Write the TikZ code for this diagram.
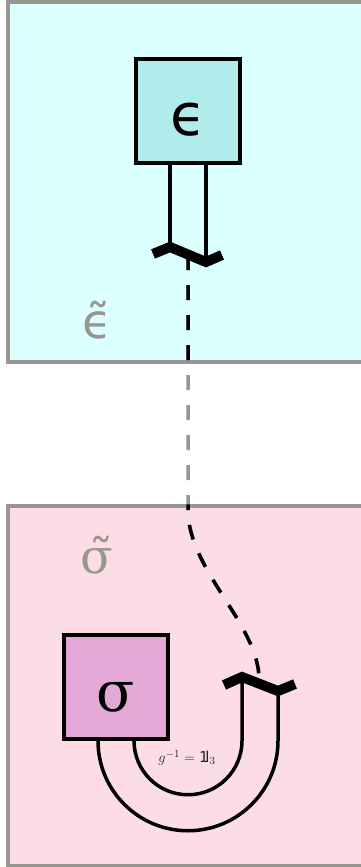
\documentclass[tikz,border=0pt]{standalone}
\usepackage{fontspec}
\setmainfont{DejaVu Sans}
\newfontfamily\serifgreek{DejaVu Serif}
\newcommand{\idone}{\mathrm{1\kern-0.22em l}}
\definecolor{framegray}{RGB}{153,150,145}
\definecolor{epsbg}{RGB}{220,255,255}
\definecolor{epsbox}{RGB}{176,236,236}
\definecolor{sigbg}{RGB}{253,221,229}
\definecolor{sigbox}{RGB}{228,168,216}
\begin{document}
\begin{tikzpicture}[x=1pt,y=-1pt,
  frame/.style={draw=framegray, line width=3.5pt, rectangle, minimum width=362pt,
    minimum height=360pt, inner sep=0pt},
  tensor/.style={draw=black, line width=3.5pt, rectangle, minimum size=104pt,
    inner sep=0pt, text height=52pt, text depth=4pt},
  wire/.style={line width=3.5pt},
  cup/.style={line width=10pt, line join=miter},
  link/.style={line width=3.5pt, dash pattern=on 15pt off 15pt},
  tag/.style={text=framegray}]
\useasboundingbox (0,0) rectangle (361,867);

% the two regions
\node[frame, fill=epsbg] (top) at (189,182) {};
\node[frame, fill=sigbg] (bot) at (189,686) {};

% dashed link between the two caps
\coordinate (capT) at (188,255);
\coordinate (bend) at (188,510);
\coordinate (capB) at (259,679);
\draw[link, framegray] (capT) -- (bend) .. controls (188,570) and (259,625) .. (capB);
\begin{scope}
  \clip (top.north west) rectangle (top.south east)
        (bot.north west) rectangle (bot.south east);
  \draw[link] (capT) -- (bend) .. controls (188,570) and (259,625) .. (capB);
\end{scope}

% top tensor and its cap
\coordinate (t1) at (153,254);
\coordinate (t2) at (170,247);
\coordinate (t3) at (206,262);
\coordinate (t4) at (222,255);
\node[tensor, fill=epsbox, font=\fontsize{58}{58}\selectfont] (eps) at (188,111) {ϵ};
\draw[wire] ([xshift=-18pt]eps.south) -- (t2);
\draw[wire] ([xshift=18pt]eps.south) -- (t3);
\draw[cup] (t1) -- (t2) -- (t3) -- (t4);

% bottom tensor, its two bent legs and cap
\coordinate (b1) at (224,685);
\coordinate (b2) at (242,677);
\coordinate (b3) at (278,691);
\coordinate (b4) at (295,684);
\node[tensor, fill=sigbox, font=\serifgreek\fontsize{56}{56}\selectfont] (sig) at (116,687) {σ};
\draw[wire] ([xshift=18pt]sig.south) arc[start angle=180, end angle=360, radius=54pt] -- (b2);
\draw[wire] ([xshift=-18pt]sig.south) arc[start angle=180, end angle=360, radius=90pt] -- (b3);
\draw[cup] (b1) -- (b2) -- (b3) -- (b4);
\node[text=black!85, font=\fontsize{15}{15}\selectfont] (rel) at (187,758) {$g^{-1}=\idone_3$};

% region labels
\node[tag, font=\fontsize{48}{48}\selectfont] (etag) at (97,320) {ϵ̃};
\node[tag, font=\serifgreek\fontsize{48}{48}\selectfont] (stag) at (97,555) {σ̃};
\end{tikzpicture}
\end{document}
